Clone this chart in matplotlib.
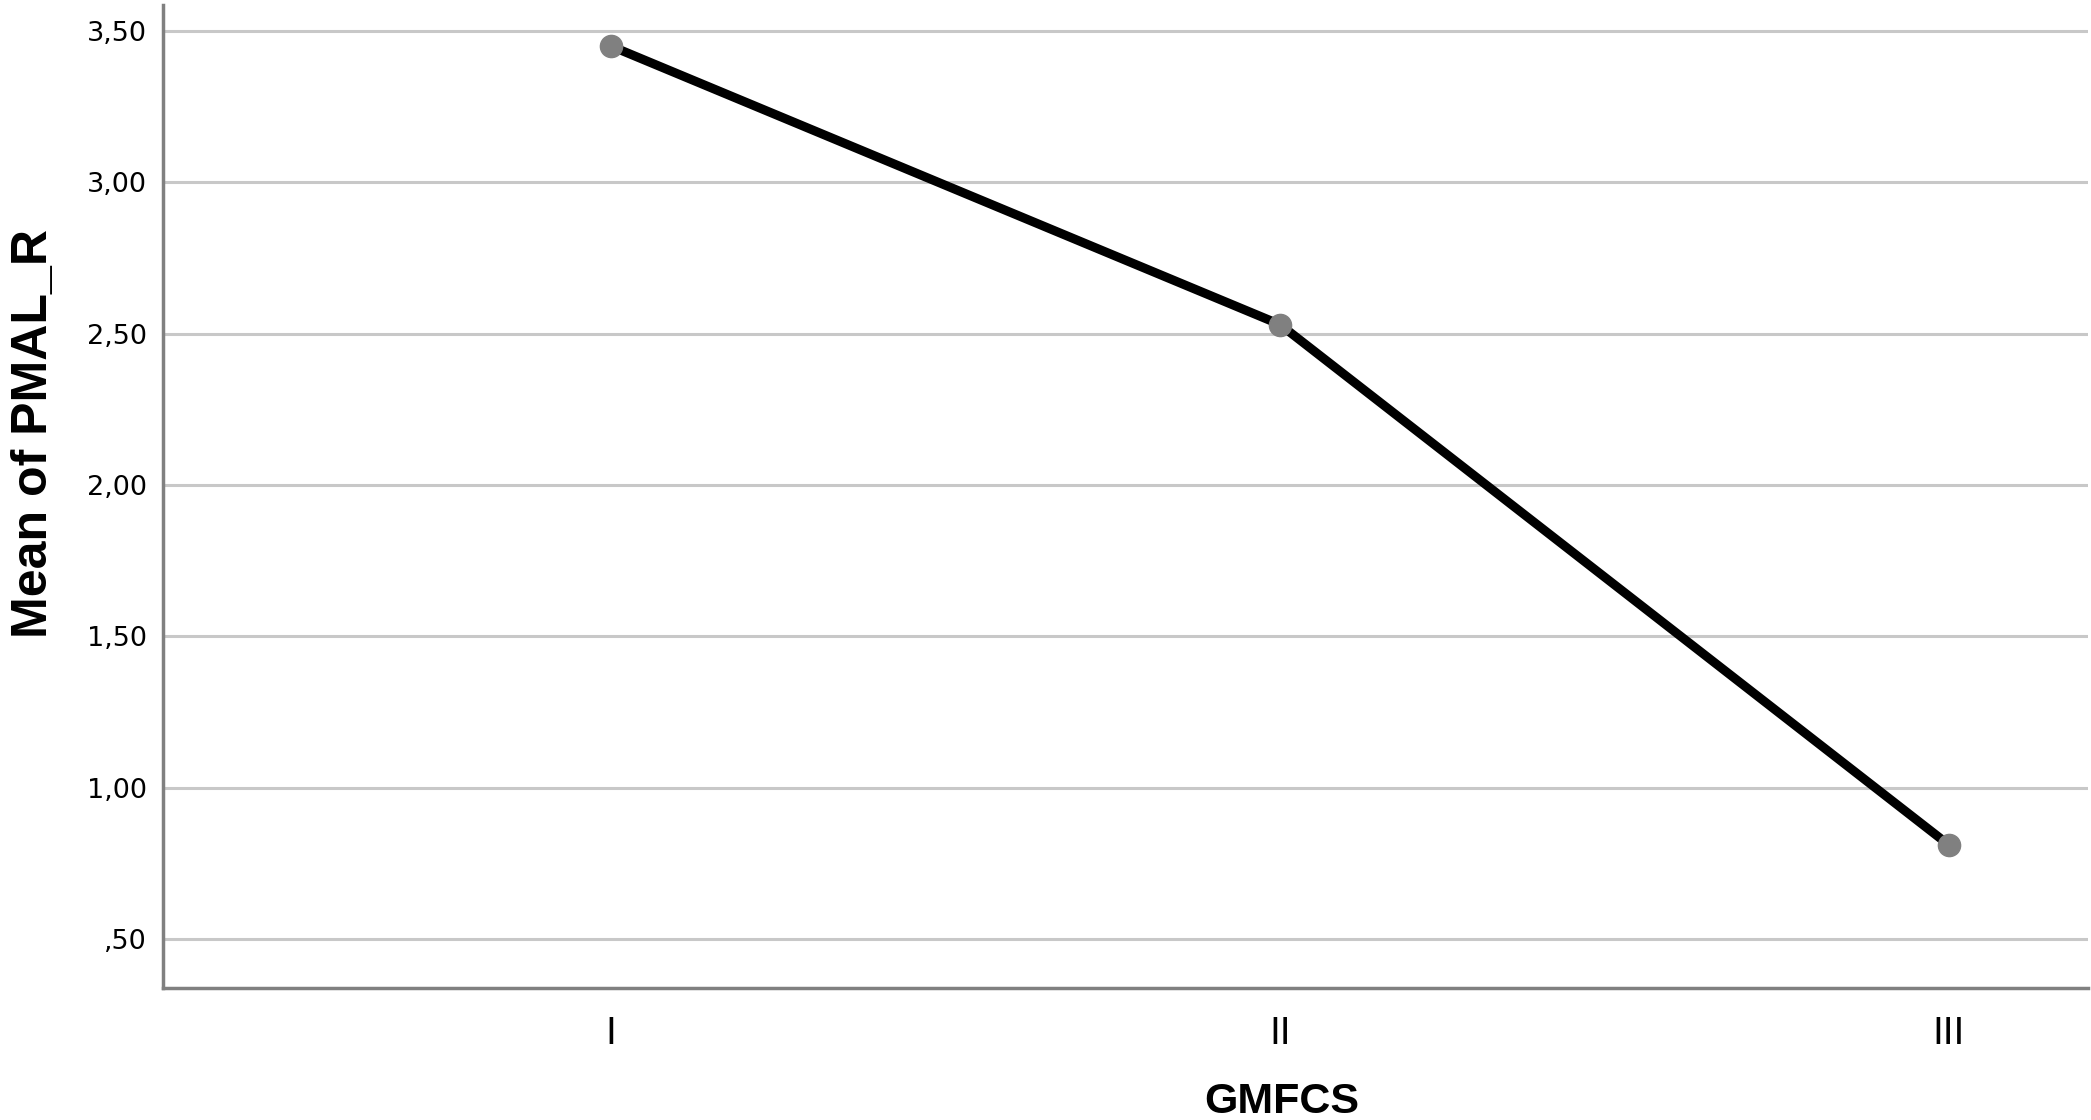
import matplotlib
matplotlib.use("Agg")
import matplotlib.pyplot as plt
from matplotlib.ticker import FixedLocator

# GMFCS level vs mean PMAL_R
levels = ["I", "II", "III"]
mean_pmal_r = [3.45, 2.53, 0.81]
y_ticks = [0.5, 1.0, 1.5, 2.0, 2.5, 3.0, 3.5]
y_tick_labels = [",50", "1,00", "1,50", "2,00", "2,50", "3,00", "3,50"]

narrow = ["Liberation Sans Narrow", "Liberation Sans", "DejaVu Sans"]

fig = plt.figure(figsize=(20.91, 11.2), dpi=100)
ax = fig.add_axes([0.078, 0.118, 0.9206, 0.8775])

x = list(range(len(levels)))
ax.plot(x, mean_pmal_r, color="black", lw=6.5, solid_capstyle="round",
        zorder=3)
ax.plot(x, mean_pmal_r, ls="none", marker="o", ms=16, color="#808080",
        markeredgecolor="#808080", zorder=4)

ax.set_xlim(-0.67, 2.208)
ax.set_ylim(0.338, 3.586)
ax.set_xticks(x)
ax.set_xticklabels(levels, fontsize=28, family=narrow)
ax.yaxis.set_major_locator(FixedLocator(y_ticks))
ax.set_yticklabels(y_tick_labels, fontsize=19.5, family="DejaVu Sans")
ax.tick_params(axis="both", length=0)
ax.tick_params(axis="y", pad=11.5)
ax.tick_params(axis="x", pad=20)

ax.grid(axis="y", color="#c8c8c8", lw=2.2)
ax.set_axisbelow(True)

for side in ["top", "right"]:
    ax.spines[side].set_visible(False)
for side in ["left", "bottom"]:
    ax.spines[side].set_color("#808080")
    ax.spines[side].set_linewidth(2.5)

# SPSS centres the axis title under the middle category, not the axes
ax.set_xlabel("GMFCS", fontsize=31, fontweight="bold",
              family="Liberation Sans", labelpad=22)
ax.xaxis.label.set_x(0.581)
ax.set_ylabel("Mean of PMAL_R", fontsize=36, fontweight="bold",
              family="Liberation Sans", labelpad=22)
ax.yaxis.label.set_y(0.564)

fig.savefig("out.png", dpi=100)
